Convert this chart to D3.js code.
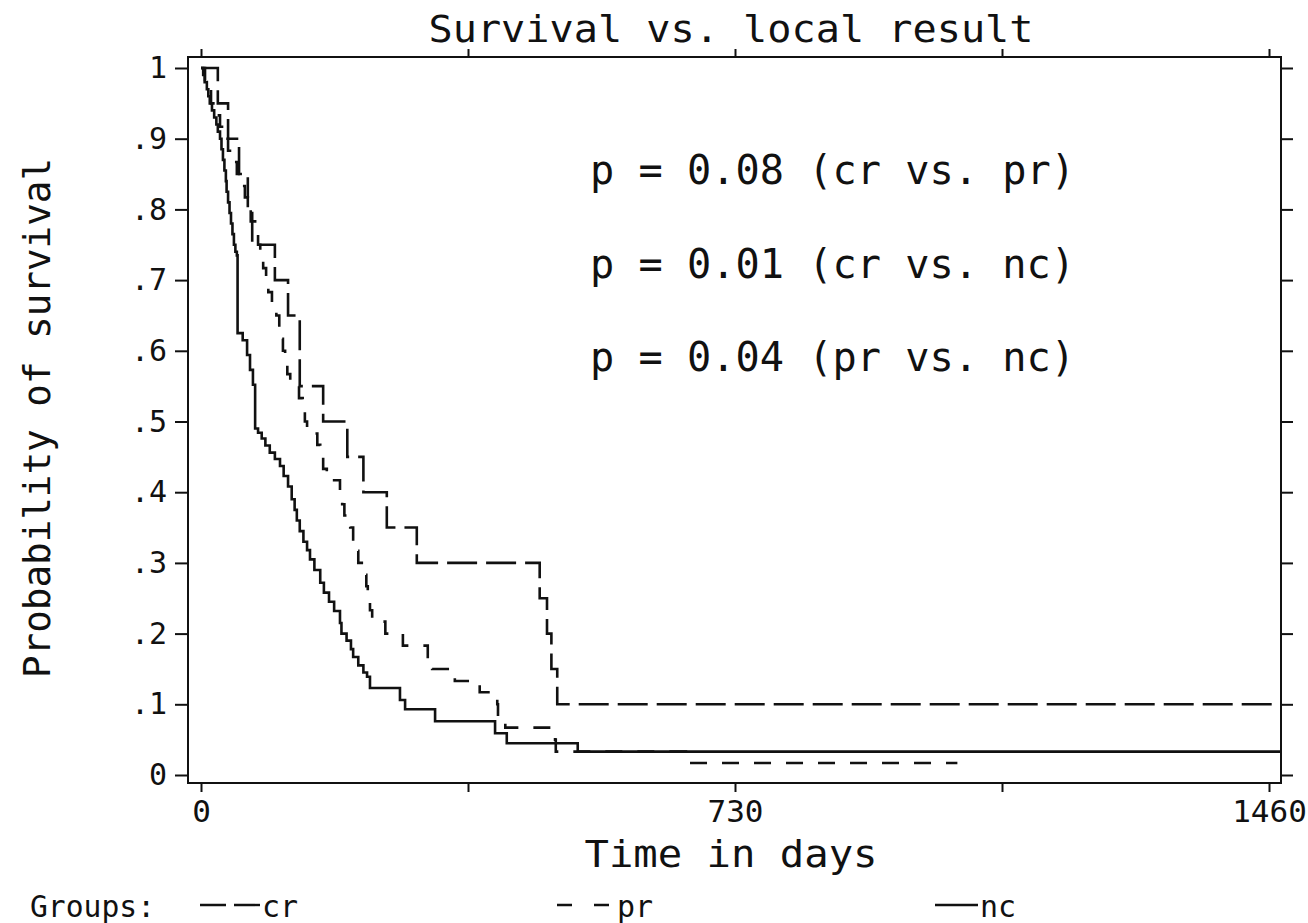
<!DOCTYPE html>
<html lang="en">
<head>
  <meta charset="UTF-8">
  <title>Survival vs. local result</title>
  <script src="https://d3js.org/d3.v7.min.js"></script>
  <style>
    body { margin: 0; background: #fff; }
    text { font-family: "DejaVu Sans Mono", monospace; fill: #111; }
  </style>
</head>
<body>
  <div id="chart"></div>
  <script>
    // Kaplan-Meier step points [day, survival]
    const crSteps = [[0, 1], [23, .95], [37, .9], [52, .85], [64, .8], [70, .75], [101, .7], [119, .65],
      [135, .55], [167, .5], [200, .45], [222, .4], [254, .35], [295, .3], [463, .25], [473, .2],
      [479, .15], [487, .1], [1476, .1]];

    const prSteps = [[0, 1], [5.5, .983], [9.6, .967], [13.7, .95], [19, .933], [26, .917], [31, .9],
      [37, .883], [44, .867], [49, .85], [55, .833], [60, .817], [64, .8], [68, .783], [74, .767],
      [78, .75], [81, .733], [85, .717], [89, .7], [92, .683], [97, .667], [103, .65], [107, .633],
      [109, .617], [112, .6], [115, .583], [118, .567], [122, .55], [134, .533], [139, .517],
      [142, .5], [145, .483], [159, .467], [163, .45], [167, .433], [172, .417], [190, .4],
      [193, .383], [196, .367], [204, .35], [208, .333], [211, .317], [215, .3], [223, .283],
      [226, .267], [228, .25], [231, .233], [234, .217], [252, .2], [276, .183], [310, .167],
      [316, .15], [347, .133], [381, .117], [405, .1], [406, .083], [416, .067], [484, .05],
      [485, .033], [663, .017], [1034, .017]];

    const ncSteps = [[0, 1], [3, .99], [5, .98], [8, .97], [10, .96], [12, .95], [15, .94], [18, .93],
      [21, .92], [23, .91], [26, .9], [28, .885], [30, .87], [32, .855], [34, .84], [35, .825],
      [37, .81], [39, .795], [41, .78], [43, .765], [45, .75], [47, .74], [49, .735], [50, .625],
      [57, .615], [63, .594], [67, .573], [71, .552], [74, .49], [78, .484], [83, .476], [88, .466],
      [94, .456], [101, .447], [108, .437], [113, .423], [119, .408], [124, .39], [128, .375],
      [131, .36], [135, .345], [140, .33], [145, .318], [149, .305], [155, .29], [163, .272],
      [168, .258], [175, .245], [182, .232], [190, .215], [192, .2], [199, .19], [205, .178],
      [208, .167], [215, .155], [222, .145], [227, .139], [231, .123], [272, .106], [279, .093],
      [320, .076], [402, .059], [418, .045], [515, .033], [1476, .033]];

    const groupNames = ["cr", "pr", "nc"];
    const groupDash = ["30,9", "17,15", null];
    const pTexts = ["p = 0.08 (cr vs. pr)", "p = 0.01 (cr vs. nc)", "p = 0.04 (pr vs. nc)"];
    const xTicks = [0, 365, 730, 1095, 1460];
    const xTickLabels = [0, 730, 1460];
    const yTicks = d3.range(0, 11).map(d => d / 10);

    const W = 1308, H = 923;
    const frame = { l: 188, r: 1281, t: 57, b: 783 };

    const x = d3.scaleLinear().domain([0, 1460]).range([201, 1269]);
    const y = d3.scaleLinear().domain([0, 1]).range([775, 68]);

    const svg = d3.select("#chart").append("svg")
      .attr("width", W).attr("height", H);

    // frame
    svg.append("rect")
      .attr("x", frame.l).attr("y", frame.t)
      .attr("width", frame.r - frame.l).attr("height", frame.b - frame.t)
      .attr("fill", "none").attr("stroke", "#111").attr("stroke-width", 2);

    // axes
    const yFmt = d => d === 0 ? "0" : d === 1 ? "1" : "." + Math.round(d * 10);
    const yAxis = svg.append("g")
      .attr("transform", `translate(${frame.l},0)`)
      .call(d3.axisLeft(y).tickValues(yTicks).tickSize(13).tickPadding(8).tickFormat(yFmt));
    yAxis.selectAll("text").style("font-size", "30px");

    svg.append("g")
      .attr("transform", `translate(${frame.r},0)`)
      .call(d3.axisRight(y).tickValues(yTicks).tickSize(12).tickFormat(""));

    const xAxis = svg.append("g")
      .attr("transform", `translate(0,${frame.b})`)
      .call(d3.axisBottom(x).tickValues(xTicks).tickSize(9)
        .tickFormat(d => xTickLabels.includes(d) ? d : ""));
    xAxis.selectAll("text").attr("y", 39).attr("dy", null).style("font-size", "31px");

    svg.append("g")
      .attr("transform", `translate(0,${frame.t})`)
      .call(d3.axisTop(x).tickValues(xTicks).tickSize(8).tickFormat(""));

    svg.selectAll(".domain").remove();
    svg.selectAll(".tick line").attr("stroke", "#111").attr("stroke-width", 2);
    svg.selectAll(".tick text").attr("fill", "#111");

    // survival curves
    const line = d3.line()
      .x(d => x(d[0]))
      .y(d => y(d[1]))
      .curve(d3.curveStepAfter);

    [crSteps, prSteps, ncSteps].forEach((s, i) => {
      svg.append("path")
        .datum(s)
        .attr("d", line)
        .attr("fill", "none")
        .attr("stroke", "#111")
        .attr("stroke-width", 2.6)
        .attr("stroke-dasharray", groupDash[i]);
    });

    // titles and labels
    svg.append("text")
      .attr("x", 731).attr("y", 42)
      .attr("text-anchor", "middle")
      .attr("textLength", 605).attr("lengthAdjust", "spacingAndGlyphs")
      .style("font-size", "38px")
      .text("Survival vs. local result");

    svg.append("text")
      .attr("transform", "translate(50,418) rotate(-90)")
      .attr("text-anchor", "middle")
      .attr("textLength", 520).attr("lengthAdjust", "spacingAndGlyphs")
      .style("font-size", "38px")
      .text("Probability of survival");

    svg.append("text")
      .attr("x", 731).attr("y", 867)
      .attr("text-anchor", "middle")
      .attr("textLength", 293).attr("lengthAdjust", "spacingAndGlyphs")
      .style("font-size", "38px")
      .text("Time in days");

    svg.selectAll(".ptext")
      .data(pTexts)
      .join("text")
      .attr("class", "ptext")
      .attr("x", 590)
      .attr("y", (d, i) => 184 + i * 93.5)
      .attr("textLength", 485).attr("lengthAdjust", "spacingAndGlyphs")
      .style("font-size", "40px")
      .text(d => d);

    // legend
    const legendX = [200, 557, 935];
    const legendLen = [60, 58, 43];
    svg.append("text")
      .attr("x", 30).attr("y", 917)
      .attr("textLength", 125).attr("lengthAdjust", "spacingAndGlyphs")
      .style("font-size", "30px")
      .text("Groups:");

    const lg = svg.selectAll(".lg")
      .data(groupNames)
      .join("g")
      .attr("class", "lg");
    lg.append("line")
      .attr("x1", (d, i) => legendX[i])
      .attr("x2", (d, i) => legendX[i] + legendLen[i])
      .attr("y1", 905).attr("y2", 905)
      .attr("stroke", "#111").attr("stroke-width", 2.4)
      .attr("stroke-dasharray", (d, i) => i === 0 ? "26,8" : i === 1 ? "15,22" : null);
    lg.append("text")
      .attr("x", (d, i) => legendX[i] + legendLen[i] + 2)
      .attr("y", 917)
      .style("font-size", "30px")
      .text(d => d);
  </script>
</body>
</html>
